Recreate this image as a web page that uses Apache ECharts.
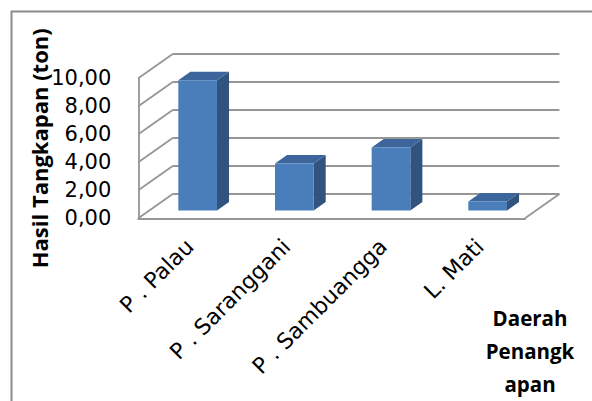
<!DOCTYPE html>
<html>
<head>
<meta charset="utf-8">
<script src="https://cdn.jsdelivr.net/npm/echarts@6/dist/echarts.min.js"></script>
<style>
html, body { margin: 0; padding: 0; background: #ffffff; }
#chart { width: 592px; height: 401px; }
</style>
</head>
<body>
<div id="chart"></div>
<script>
// ---- data ----
const categories = ['P . Palau', 'P . Saranggani', 'P . Sambuangga', 'L. Mati'];
const catchTon = [9.3, 3.35, 4.5, 0.64];
const yTicks = [0, 2, 4, 6, 8, 10];
const yAxisTitle = 'Hasil Tangkapan (ton)';
const xAxisTitleLines = ['Daerah', 'Penangk', 'apan'];

// ---- layout / style ----
const W = 592, H = 401;
const FRONT = { left: 138.3, top: 78.3, right: W - 525, bottom: H - 218.3 };
const DEPTH = { x: 34.4, y: -24.3 };
const BAR_DEPTH_START = 0.32, BAR_DEPTH = 0.35, BAR_WIDTH = 0.40;
const GRID_COLOR = '#969696';
const GRID_WIDTH = 1.8;
const Y_MIN = 0, Y_MAX = 10, Y_STEP = 2;

function shifted(f) {
  return {
    left: FRONT.left + DEPTH.x * f,
    right: FRONT.right - DEPTH.x * f,
    top: FRONT.top + DEPTH.y * f,
    bottom: FRONT.bottom - DEPTH.y * f
  };
}

const chart = echarts.init(document.getElementById('chart'), null, { renderer: 'svg' });

const fmt = v => v.toFixed(2).replace('.', ',');

const option = {
  animation: false,
  backgroundColor: '#ffffff',
  grid: [
    Object.assign({ containLabel: false }, shifted(0)),
    Object.assign({ containLabel: false }, shifted(BAR_DEPTH_START)),
    Object.assign({ containLabel: false }, shifted(1))
  ],
  xAxis: [
    {
      type: 'category', gridIndex: 0, data: categories,
      axisLine: { show: true, lineStyle: { color: GRID_COLOR, width: GRID_WIDTH } },
      axisTick: { show: false }, axisLabel: { show: false }, splitLine: { show: false }
    },
    {
      type: 'category', gridIndex: 1, data: categories,
      axisLine: { show: false }, axisTick: { show: false }, splitLine: { show: false },
      axisLabel: {
        show: true, interval: 0, rotate: 45, margin: 40, verticalAlign: 'bottom',
        fontFamily: 'DejaVu Sans', fontSize: 22, color: '#000000'
      }
    },
    { type: 'category', gridIndex: 2, data: categories, show: false }
  ],
  yAxis: [
    {
      type: 'value', gridIndex: 0, min: Y_MIN, max: Y_MAX, interval: Y_STEP,
      axisLine: { show: true, lineStyle: { color: GRID_COLOR, width: GRID_WIDTH } },
      axisTick: { show: false }, splitLine: { show: false },
      axisLabel: {
        margin: 27, formatter: fmt,
        fontFamily: 'DejaVu Sans', fontSize: 21, color: '#000000'
      },
      name: yAxisTitle, nameLocation: 'middle', nameRotate: 90, nameGap: 88,
      nameMoveOverlap: false,
      nameTextStyle: { fontFamily: 'Open Sans', fontWeight: 'bold', fontSize: 22, color: '#000000' }
    },
    { type: 'value', gridIndex: 1, min: Y_MIN, max: Y_MAX, interval: Y_STEP, show: false },
    {
      type: 'value', gridIndex: 2, min: Y_MIN, max: Y_MAX, interval: Y_STEP,
      axisLine: { show: false }, axisTick: { show: false }, axisLabel: { show: false },
      splitLine: { show: true, lineStyle: { color: GRID_COLOR, width: GRID_WIDTH } }
    }
  ],
  graphic: [
    { type: 'line', silent: true, shape: { x1: 11.5, y1: 11, x2: 11.5, y2: H }, style: { stroke: '#8c8c8c', lineWidth: 2 } },
    { type: 'line', silent: true, shape: { x1: 11, y1: 11.5, x2: W, y2: 11.5 }, style: { stroke: '#8c8c8c', lineWidth: 2 } },
    {
      type: 'text', x: 530, y: 301, silent: true,
      style: {
        text: xAxisTitleLines.join('\n'), align: 'center', verticalAlign: 'top',
        fontFamily: 'Open Sans', fontWeight: 'bold', fontSize: 20.5, lineHeight: 33, fill: '#000000'
      }
    }
  ],
  series: [
    {
      name: 'walls', type: 'custom', xAxisIndex: 0, yAxisIndex: 0, silent: true, z: 1,
      data: yTicks.map(v => [0, v]),
      encode: { x: 0, y: 1 },
      renderItem: function (params, api) {
        const v = api.value(1);
        const p = api.coord([0, v]);
        const band = api.size([1, 0])[0];
        const xL = p[0] - band / 2;
        const style = { stroke: GRID_COLOR, lineWidth: GRID_WIDTH, fill: null };
        const children = [
          { type: 'line', shape: { x1: xL, y1: p[1], x2: xL + DEPTH.x, y2: p[1] + DEPTH.y }, style: style }
        ];
        if (v === Y_MIN) {
          const xR = api.coord([categories.length - 1, v])[0] + band / 2;
          children.push({ type: 'line', shape: { x1: xR, y1: p[1], x2: xR + DEPTH.x, y2: p[1] + DEPTH.y }, style: style });
        }
        return { type: 'group', children: children };
      }
    },
    {
      name: 'Hasil Tangkapan', type: 'custom', xAxisIndex: 1, yAxisIndex: 1, z: 5,
      data: categories.map((c, i) => [i, catchTon[i]]),
      encode: { x: 0, y: 1 },
      renderItem: function (params, api) {
        const i = api.value(0);
        const v = api.value(1);
        const base = api.coord([i, 0]);
        const top = api.coord([i, v]);
        const bw = api.size([1, 0])[0] * BAR_WIDTH;
        const dx = DEPTH.x * BAR_DEPTH, dy = DEPTH.y * BAR_DEPTH;
        const x0 = base[0] - bw / 2, x1 = base[0] + bw / 2;
        const yb = base[1], yt = top[1];
        return {
          type: 'group',
          children: [
            { type: 'polygon', shape: { points: [[x1, yb], [x1 + dx, yb + dy], [x1 + dx, yt + dy], [x1, yt]] },
              style: { fill: '#31547f' } },
            { type: 'polygon', shape: { points: [[x0, yt], [x1, yt], [x1 + dx, yt + dy], [x0 + dx, yt + dy]] },
              style: { fill: '#3b659b' } },
            { type: 'rect', shape: { x: x0, y: yt, width: bw, height: yb - yt },
              style: { fill: '#4a7ebb' } }
          ]
        };
      }
    }
  ]
};

chart.setOption(option);
</script>
</body>
</html>
